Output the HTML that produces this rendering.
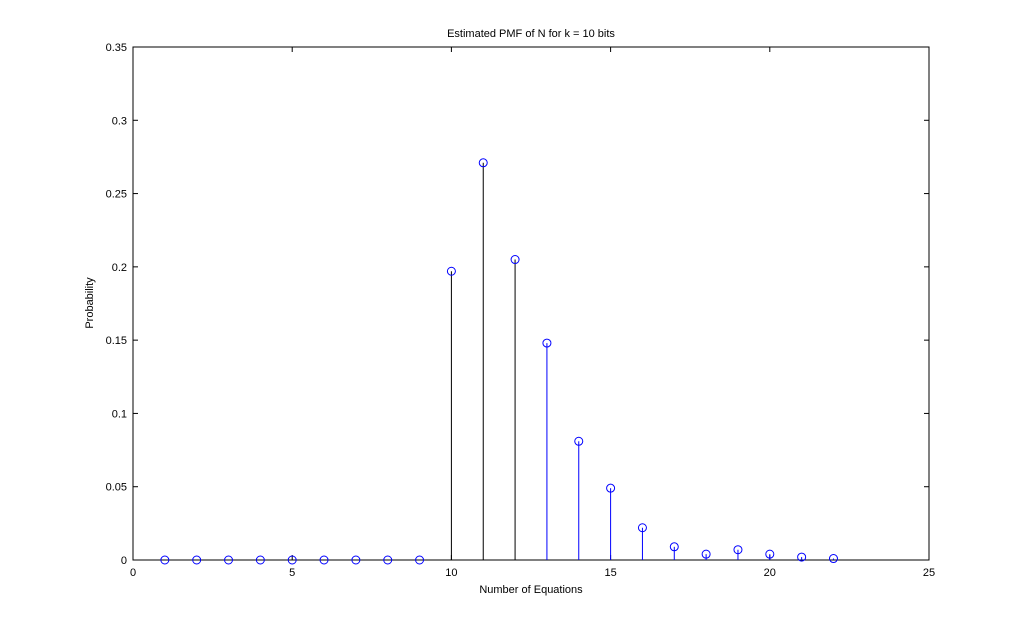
<!DOCTYPE html>
<html><head><meta charset="utf-8"><style>
html,body{margin:0;padding:0;background:#fff;width:1026px;height:629px;overflow:hidden}
text{font-family:"Liberation Sans",sans-serif;font-size:11px;fill:#000}
</style></head><body>
<svg id="chart" width="1026" height="629" xmlns="http://www.w3.org/2000/svg">
<rect x="0" y="0" width="1026" height="629" fill="#fff"/>
<rect x="133" y="47" width="796" height="513" fill="#fff" stroke="#000" stroke-width="1"/>
<g id="ticks"></g>
<g id="marks"></g>
<text x="531" y="37" text-anchor="middle">Estimated PMF of N for k = 10 bits</text>
<text x="531" y="593" text-anchor="middle">Number of Equations</text>
<text transform="translate(93,303) rotate(-90)" text-anchor="middle">Probability</text>
</svg>
<script>
const categories=[1,2,3,4,5,6,7,8,9,10,11,12,13,14,15,16,17,18,19,20,21,22];
const probabilities=[0,0,0,0,0,0,0,0,0,0.197,0.271,0.205,0.148,0.081,0.049,0.022,0.009,0.004,0.007,0.004,0.002,0.001];
const xTicks=[0,5,10,15,20,25];
const yTicks=[0,0.05,0.1,0.15,0.2,0.25,0.3,0.35];
const yTickLabels=["0","0.05","0.1","0.15","0.2","0.25","0.3","0.35"];
const L=133,R=929,T=47,B=560;
const sx=v=>L+(v-0)/25*(R-L);
const sy=v=>B-(v-0)/0.35*(B-T);
const NS="http://www.w3.org/2000/svg";
function mk(tag,attrs,parent){const e=document.createElementNS(NS,tag);for(const k in attrs)e.setAttribute(k,attrs[k]);parent.appendChild(e);return e;}
const tg=document.getElementById('ticks');
xTicks.forEach(v=>{const x=sx(v);
 let l=mk('line',{x1:x,x2:x,y1:B,y2:B-5,stroke:'#000'},tg);
 
 
 mk('line',{x1:x,x2:x,y1:T,y2:T+5,stroke:'#000'},tg);
 let t=mk('text',{x:x,y:B+16,'text-anchor':'middle'},tg);t.textContent=String(v);
 
 
});
yTicks.forEach((v,i)=>{const y=sy(v);
 let l=mk('line',{x1:L,x2:L+5,y1:y,y2:y,stroke:'#000'},tg);
 
 
 mk('line',{x1:R,x2:R-5,y1:y,y2:y,stroke:'#000'},tg);
 let t=mk('text',{x:L-6,y:y+4,'text-anchor':'end'},tg);t.textContent=yTickLabels[i];
 
 
});
const mg=document.getElementById('marks');
categories.forEach((c,i)=>{const x=sx(c),y=sy(probabilities[i]);
 const col=(c>=10&&c<=12)?'#000':'#00f';
 let s=mk('line',{x1:x,x2:x,y1:B,y2:y,stroke:col,'stroke-width':1},mg);
 
 
 let m=mk('circle',{cx:x,cy:y,r:4,fill:'none',stroke:'#00f','stroke-width':1},mg);
 
 
});
</script>
</body></html>
